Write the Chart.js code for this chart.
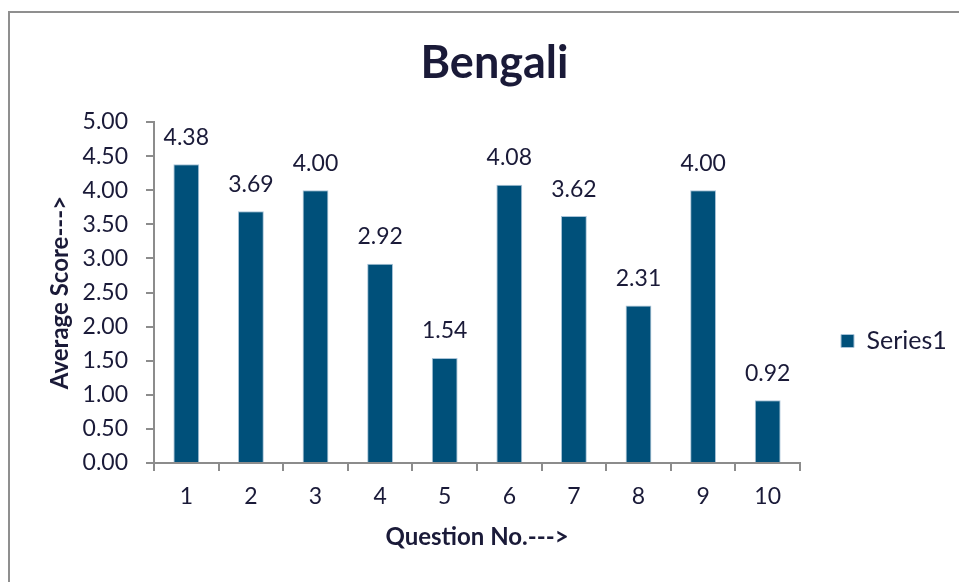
<!DOCTYPE html>
<html>
<head>
<meta charset="utf-8">
<script src="https://cdn.jsdelivr.net/npm/chart.js@4"></script>
<style>
  body { margin: 0; background: #fff; }
  canvas { display: block; }
</style>
</head>
<body>
<canvas id="grafico" width="959" height="582"></canvas>
<script>
var categories = ['1', '2', '3', '4', '5', '6', '7', '8', '9', '10'];
var series1 = [4.38, 3.69, 4.00, 2.92, 1.54, 4.08, 3.62, 2.31, 4.00, 0.92];
var yTicks = [0, 0.5, 1, 1.5, 2, 2.5, 3, 3.5, 4, 4.5, 5];

var textColor = '#1a1a38';
var axisColor = '#8c8c8c';
var barColor = '#00507a';

Chart.defaults.font.family = 'Lato';
Chart.defaults.color = textColor;

// frame like the excel chart border (only left and top show)
var cornice = {
  id: 'cornice',
  beforeDraw: function (chart) {
    var ctx = chart.ctx;
    ctx.save();
    ctx.strokeStyle = '#8f8f8f';
    ctx.lineWidth = 2;
    ctx.beginPath();
    ctx.moveTo(9, 582);
    ctx.lineTo(9, 12);
    ctx.lineTo(959, 12);
    ctx.stroke();
    ctx.restore();
  }
};

// value labels above each bar
var etichette = {
  id: 'etichette',
  afterDatasetsDraw: function (chart) {
    var ctx = chart.ctx;
    var meta = chart.getDatasetMeta(0);
    ctx.save();
    ctx.font = '23px Lato';
    ctx.fillStyle = textColor;
    ctx.textAlign = 'center';
    ctx.textBaseline = 'middle';
    meta.data.forEach(function (bar, i) {
      ctx.fillText(series1[i].toFixed(2), bar.x, bar.y - 27);
    });
    ctx.restore();
  }
};

var ctx = document.getElementById('grafico').getContext('2d');

var grafico = new Chart(ctx, {
  type: 'bar',
  data: {
    labels: categories,
    datasets: [{
      label: 'Series1',
      data: series1,
      backgroundColor: barColor,
      borderColor: '#a8c3d8',
      borderWidth: 1,
      barPercentage: 0.4,
      categoryPercentage: 1
    }]
  },
  options: {
    responsive: false,
    animation: false,
    layout: { padding: { top: 0, left: 30, bottom: 0, right: 0 } },
    plugins: {
      title: {
        display: true,
        text: 'Bengali',
        color: textColor,
        font: { size: 45, weight: 'bold' },
        padding: { top: 36, bottom: 32 }
      },
      legend: {
        position: 'right',
        title: { display: true, text: '', font: { size: 10 }, padding: { top: 0, bottom: 88 } },
        labels: {
          boxWidth: 13,
          boxHeight: 13,
          padding: 41,
          color: textColor,
          font: { size: 25 }
        }
      },
      tooltip: { enabled: false }
    },
    scales: {
      x: {
        grid: {
          offset: true,
          drawOnChartArea: false,
          drawTicks: true,
          tickLength: 8,
          color: axisColor,
          lineWidth: 2
        },
        border: { display: true, color: axisColor, width: 2 },
        ticks: { color: textColor, font: { size: 23 }, padding: 12, maxRotation: 0 },
        title: {
          display: true,
          text: 'Question No.--->',
          color: textColor,
          font: { size: 24, weight: 'bold' },
          padding: { top: 0, bottom: 30 }
        },
        afterFit: function (scale) {
          scale.height = 119;
          scale.paddingRight = 159;
        }
      },
      y: {
        min: 0,
        max: 5,
        afterBuildTicks: function (scale) {
          scale.ticks = yTicks.map(function (v) { return { value: v }; });
        },
        grid: {
          drawOnChartArea: false,
          drawTicks: true,
          tickLength: 8,
          color: axisColor,
          lineWidth: 2
        },
        border: { display: true, color: axisColor, width: 2 },
        ticks: {
          color: textColor,
          font: { size: 23 },
          padding: 18,
          callback: function (v) { return Number(v).toFixed(2); }
        },
        title: {
          display: true,
          text: 'Average Score--->',
          color: textColor,
          font: { size: 24, weight: 'bold' },
          padding: { top: 16, bottom: 0 }
        },
        afterFit: function (scale) {
          scale.width = 124;
        }
      }
    }
  },
  plugins: [cornice, etichette]
});
</script>
</body>
</html>
